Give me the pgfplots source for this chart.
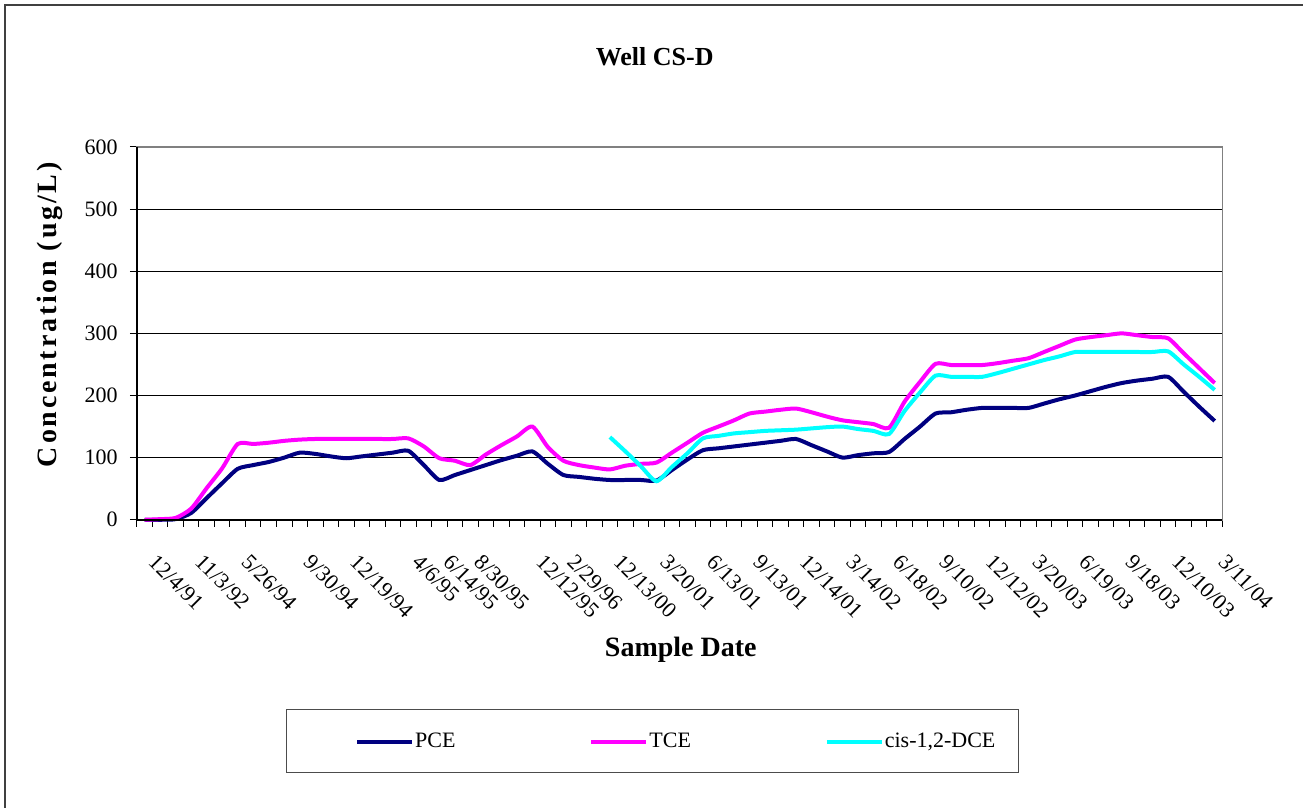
\documentclass[border=0pt]{standalone}
\usepackage{pgfplots}
\pgfplotsset{compat=1.18}
\usepackage{pgfplotstable}
\usepackage{fontspec}
\setmainfont{Liberation Serif}
\definecolor{pce}{RGB}{0,0,128}
\definecolor{tce}{RGB}{255,0,255}
\definecolor{dce}{RGB}{0,255,255}

\pgfplotstableread{
idx pce tce
0 0 0
1 0 1
2 1 3
3 11 18
4 35 51
5 59 83
6 82 122
7 88 122
8 93 124
9 100 127
10 108 129
11 106 130
12 102 130
13 99 130
14 102 130
15 105 130
16 108 130
17 111 131
18 88 118
19 64 99
20 72 95
21 80 88
22 88 105
23 96 120
24 103 134
25 110 150
26 90 117
27 72 95
28 69 88
29 66 84
30 64 81
31 64 87
32 64 90
33 63 92
34 80 108
35 97 124
36 112 140
37 115 150
38 118 160
39 121 171
40 124 174
41 127 177
42 130 179
43 120 173
44 110 166
45 100 160
46 104 157
47 107 154
48 109 148
49 130 190
50 150 222
51 171 251
52 173 249
53 177 249
54 180 249
55 180 252
56 180 256
57 180 260
58 187 270
59 194 280
60 200 290
61 207 294
62 214 297
63 220 300
64 224 297
65 227 294
66 230 292
67 206 268
68 182 244
69 159 220
}\maindata

\pgfplotstableread{
idx dce
30 133
31 110
32 86
33 62
34 85
35 107
36 131
37 135
38 139
39 141
40 143
41 144
42 145
43 147
44 149
45 150
46 146
47 143
48 138
49 175
50 205
51 232
52 230
53 230
54 230
55 236
56 243
57 250
58 257
59 263
60 270
61 270
62 270
63 270
64 270
65 270
66 271
67 250
68 230
69 209
}\dcedata

\begin{document}
\begin{tikzpicture}
\path (0,0) rectangle (652pt,404pt);
\draw[black!75, line width=0.6pt] (2.5pt,0pt) -- (2.5pt,401.5pt) -- (652pt,401.5pt);
\draw[black!70, line width=0.6pt] (143.5pt,17.5pt) rectangle (509.5pt,49pt);
\begin{axis}[
  at={(68.5pt,144pt)}, anchor=south west,
  scale only axis, width=543pt, height=186.5pt,
  xmin=-0.5, xmax=69.5, ymin=0, ymax=600,
  clip=false,
  tick pos=left,
  ytick={0,100,...,600},
  xtick={-0.5,0.5,...,69.5}, xticklabels={},
  extra x ticks={0,3,6,10,13,17,19,21,25,27,30,33,36,39,42,45,48,51,54,57,60,63,66,69},
  extra x tick labels={12/4/91,11/3/92,5/26/94,9/30/94,12/19/94,4/6/95,6/14/95,8/30/95,12/12/95,2/29/96,12/13/00,3/20/01,6/13/01,9/13/01,12/14/01,3/14/02,6/18/02,9/10/02,12/12/02,3/20/03,6/19/03,9/18/03,12/10/03,3/11/04},
  extra x tick style={major tick length=0pt, grid=none},
  tick align=outside,
  major tick length=3.5pt,
  tick style={black, line width=0.5pt},
  ymajorgrids, grid style={black, line width=0.5pt},
  axis line style={draw=gray, line width=0.8pt},
  /pgf/number format/assume math mode=true,
  yticklabel style={font=\fontsize{11}{13}\selectfont, inner sep=0pt, xshift=-6pt},
  xticklabel style={font=\fontsize{11}{13}\selectfont, inner sep=0pt, xshift=6.5pt, yshift=-16.5pt, rotate=-45, anchor=north west},
  ylabel={Concentration (ug/L)},
  ylabel style={font=\fontsize{14}{16}\selectfont\bfseries\addfontfeatures{LetterSpace=10}, at={(axis description cs:-0.0801,0.55)}, anchor=center},
  xlabel={Sample Date},
  xlabel style={font=\fontsize{14}{16}\selectfont\bfseries, at={(axis description cs:0.501,-0.367)}, anchor=base},
  title={Well CS-D},
  title style={font=\fontsize{13}{15}\selectfont\bfseries, at={(axis description cs:0.477,1.185)}, anchor=base},
  legend style={draw=none, fill=none, at={(axis description cs:0.2007,-0.595)}, anchor=west, legend columns=3, font=\fontsize{11}{13}\selectfont, /tikz/every odd column/.append style={column sep=-1.5pt}, /tikz/every even column/.append style={column sep=65pt}, inner sep=0pt},
  legend image code/.code={\draw[#1, line width=2pt] (0pt,0pt) -- (27.5pt,0pt);},
]
\addplot[pce, line width=2pt, smooth, tension=0.4, mark=none] table[x=idx,y=pce]{\maindata};
\addlegendentry{PCE}
\addplot[tce, line width=2pt, smooth, tension=0.4, mark=none] table[x=idx,y=tce]{\maindata};
\addlegendentry{TCE}
\addplot[dce, line width=2pt, smooth, tension=0.4, mark=none] table[x=idx,y=dce]{\dcedata};
\addlegendentry{cis-1,2-DCE}
\draw[black, line width=0.8pt] (rel axis cs:0,1) -- (rel axis cs:0,0) -- (rel axis cs:1,0);
\end{axis}
\end{tikzpicture}
\end{document}
